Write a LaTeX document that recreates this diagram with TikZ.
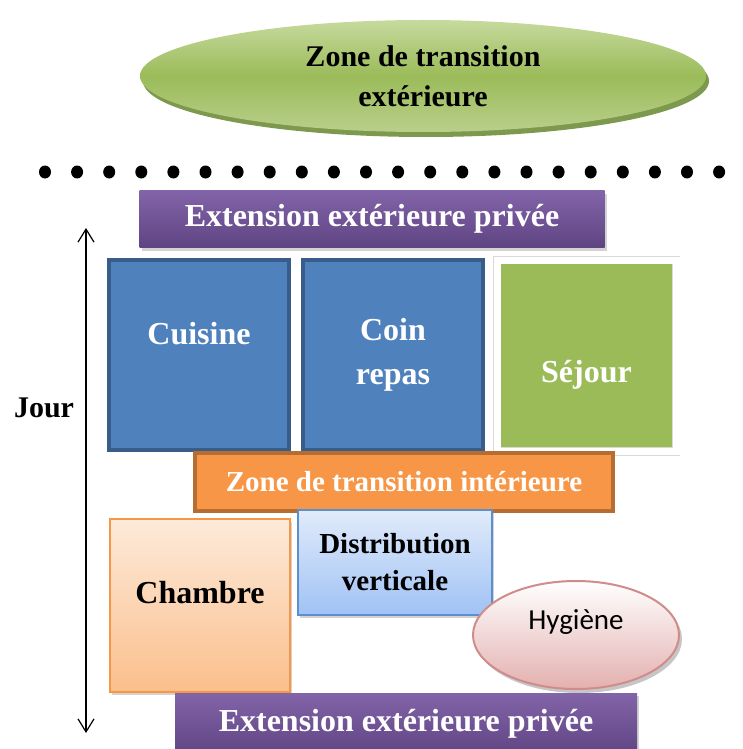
\documentclass[tikz,border=0pt]{standalone}
\usepackage{fontspec}
\setmainfont{Liberation Serif}
\newfontfamily\hygfont{Carlito}
\usetikzlibrary{arrows.meta,positioning,shapes,shadows}
\definecolor{greenL}{HTML}{C6DA9E}
\definecolor{greenM}{HTML}{9BBB59}
\definecolor{greenD}{HTML}{6F8E3A}
\definecolor{purpT}{HTML}{8264A8}
\definecolor{purpB}{HTML}{5F4483}
\definecolor{blueF}{HTML}{4F81BD}
\definecolor{blueD}{HTML}{385D8A}
\definecolor{orangeF}{HTML}{F79646}
\definecolor{orangeD}{HTML}{B66D31}
\definecolor{peachT}{HTML}{FDEADA}
\definecolor{peachB}{HTML}{FBBF8C}
\definecolor{distT}{HTML}{E1EBFA}
\definecolor{distB}{HTML}{A0C2F5}
\definecolor{distD}{HTML}{5B8FD0}
\definecolor{pinkB}{HTML}{E3B0AF}
\definecolor{pinkD}{HTML}{D08C8A}

\begin{document}
\begin{tikzpicture}[x=1pt,y=-1pt,>={Straight Barb[length=13pt,width=16pt]},
  lbl/.style={font=\bfseries\fontsize{#1}{40}\selectfont,align=center,inner sep=0pt},
  lbl/.default=30,
  shd/.style={drop shadow={shadow xshift=2pt,shadow yshift=-3pt,opacity=0.35}},
  bar/.style={lbl=32,text=white,top color=purpT,bottom color=purpB,minimum height=57pt,shd},
  room/.style={lbl=32,text=white,draw=blueD,fill=blueF,line width=4pt,minimum width=180pt,minimum height=190pt}]
  \useasboundingbox (0,0) rectangle (743,749);

  % Outside
  \node[lbl,ellipse,minimum width=566pt,minimum height=112pt,
        top color=greenL,bottom color=greenM!70!white,middle color=greenM,
        drop shadow={shadow xshift=3pt,shadow yshift=-5pt,fill=greenD,opacity=0.9}]
        (ext) at (423,76) {Zone de transition\\extérieure};
  \foreach \i in {0,...,21}
    \fill (45+\i*32.1,172) ellipse (6 and 6.5);

  % Day zone
  \node[bar,minimum width=465pt] (priv1) at (372,219) {Extension extérieure privée};
  \coordinate (jt) at (86,228);
  \coordinate (jb) at (86,733);
  \draw[<->,line width=1.2pt] (jt) -- (jb);
  \node[lbl] (jour) at (44,408) {Jour};

  \node[room] (cuisine) at (199,355) {Cuisine\\[4pt]~};
  \node[room,font=\bfseries\fontsize{32}{44}\selectfont] (repas) at (393,355) {Coin\\repas};
  \node[lbl=32,text=white,draw=black!15,double=white,double distance=7pt,line width=0.6pt,
        fill=greenM,minimum width=179pt,minimum height=191pt,
        drop shadow={shadow xshift=4pt,shadow yshift=-5pt,opacity=0.3}]
        (sejour) at (586.5,355.5) {~\\[20pt]Séjour};

  \node[lbl=29,text=white,draw=orangeD,fill=orangeF,line width=4pt,minimum width=418pt,
        minimum height=58pt] (zti) at (404,482) {Zone de transition intérieure};

  % Night zone
  \node[lbl=32,draw=orangeF,line width=1.5pt,top color=peachT,bottom color=peachB,
        minimum width=180pt,minimum height=173pt,shd] (chambre) at (200,605.5) {Chambre\\[-14pt]~};
  \node[lbl=29,font=\bfseries\fontsize{29}{37}\selectfont,draw=distD,line width=1.5pt,
        top color=distT,bottom color=distB,
        minimum width=194pt,minimum height=105pt,shd] (distrib) at (395,562.5) {Distribution\\verticale};
  \node[bar,minimum width=462pt,minimum height=62pt] (priv2) at (406,724) {Extension extérieure privée};
  \node[ellipse,draw=pinkD,line width=2pt,top color=white,bottom color=pinkB,
        minimum width=206pt,minimum height=108pt,inner sep=0pt,align=center,
        font=\hygfont\fontsize{29}{35}\selectfont,
        drop shadow={shadow xshift=3pt,shadow yshift=-4pt,opacity=0.45}]
        (hyg) at (576,635) {Hygiène\\[-5pt]~};
\end{tikzpicture}
\end{document}
